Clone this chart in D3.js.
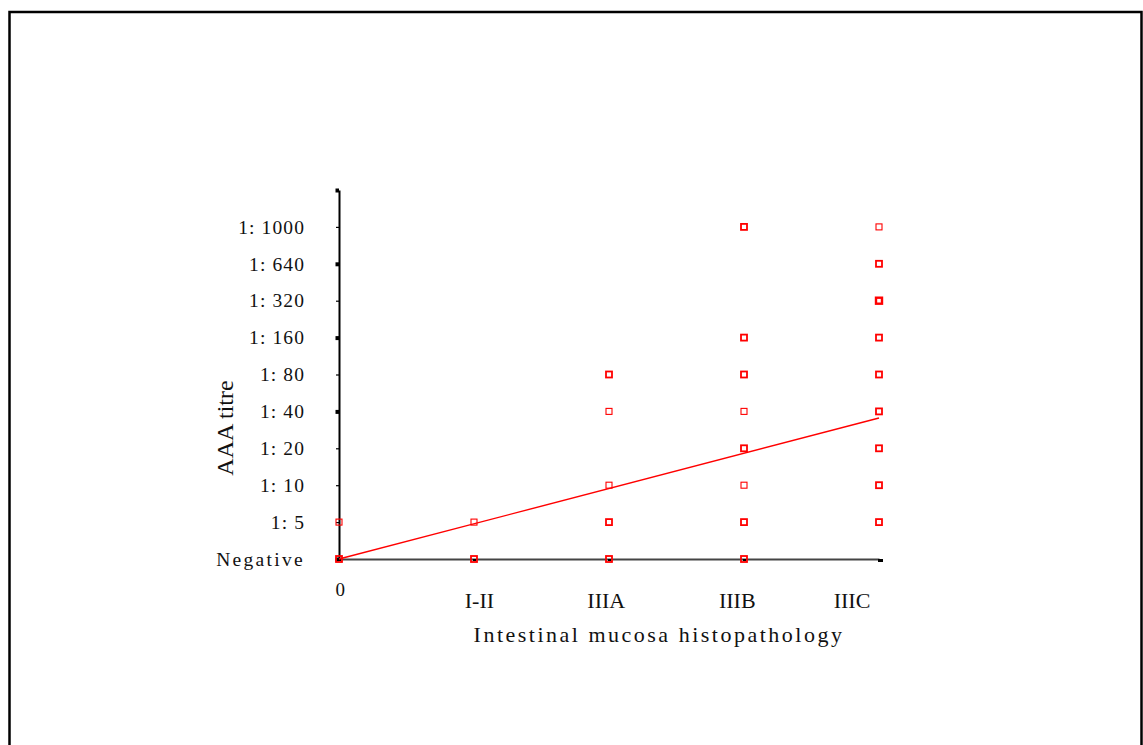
<!DOCTYPE html>
<html lang="en">
<head>
<meta charset="utf-8">
<title>AAA titre vs intestinal mucosa histopathology</title>
<script src="https://cdn.jsdelivr.net/npm/d3@7/dist/d3.min.js"></script>
<style>
  body { margin: 0; background: #fff; }
  svg text { font-family: "Liberation Serif", "Times New Roman", serif; fill: #111; }
</style>
</head>
<body>
<script>
// categories on the x axis (histopathology grade)
var categories = ["0", "I-II", "IIIA", "IIIB", "IIIC"];
// where each category label sits, in category units (the labels are not quite centred on the ticks)
var categoryLabelPos = [0.01, 1.04, 1.98, 2.95, 3.80];
// titre levels on the y axis, bottom to top (level 10 is the unlabelled top of the axis)
var titreLabels = ["Negative", "1: 5", "1: 10", "1: 20", "1: 40", "1: 80", "1: 160", "1: 320", "1: 640", "1: 1000"];
var majorLevels = [0, 4, 6, 8, 10];

// observed points: category index, titre level, how many overlap
var pointCat   = [0, 0, 1, 1, 2, 2, 2, 2, 2, 3, 3, 3, 3, 3, 3, 3, 3, 4, 4, 4, 4, 4, 4, 4, 4, 4];
var pointTitre = [0, 1, 0, 1, 0, 1, 2, 4, 5, 0, 1, 2, 3, 4, 5, 6, 9, 1, 2, 3, 4, 5, 6, 7, 8, 9];
var pointCount = [2, 1, 2, 1, 2, 2, 1, 1, 2, 2, 2, 1, 2, 1, 2, 2, 2, 2, 2, 2, 2, 2, 2, 3, 2, 1];

// linear fit (titre level on category index)
var fitIntercept = 0, fitSlope = 0.955;

var W = 1143, H = 745;
var x0 = 339, x1 = 879, yBase = 559, yTop = 190;
var red = "#ff0000";

var svg = d3.select("body").append("svg")
  .attr("width", W)
  .attr("height", H);

// outer frame (bottom edge runs off the page)
svg.append("rect")
  .attr("x", 9.5).attr("y", 12)
  .attr("width", 1132).attr("height", 800)
  .attr("fill", "none")
  .attr("stroke", "#000")
  .attr("stroke-width", 2.5);

var x = d3.scaleLinear().domain([0, categories.length - 1]).range([x0, x1]);
var y = d3.scaleLinear().domain([0, 10]).range([yBase, yTop]);

// x axis
var xAxis = svg.append("g")
  .attr("transform", "translate(0," + yBase + ")")
  .call(d3.axisBottom(x)
    .tickValues(d3.range(categories.length))
    .tickSize(3)
    .tickSizeOuter(0)
    .tickFormat(""));
xAxis.select(".domain").attr("stroke", "#444").attr("stroke-width", 2);
xAxis.selectAll(".tick line").attr("stroke", "#000").attr("stroke-width", 3).attr("y2", 2);
// little end mark at the right end of the x axis
xAxis.append("line")
  .attr("x1", x(categories.length - 1) - 1).attr("x2", x(categories.length - 1) + 4)
  .attr("y1", 1.5).attr("y2", 1.5)
  .attr("stroke", "#000").attr("stroke-width", 3);

svg.append("g").selectAll("text")
  .data(categories)
  .enter().append("text")
  .attr("x", function(d, i) { return x(categoryLabelPos[i]); })
  .attr("y", function(d, i) { return i === 0 ? 596 : 608; })
  .attr("text-anchor", "middle")
  .attr("font-size", function(d, i) { return i === 0 ? "19px" : "22px"; })
  .text(function(d) { return d; });

// y axis
var yAxis = svg.append("g")
  .attr("transform", "translate(" + x0 + ",0)")
  .call(d3.axisLeft(y)
    .tickValues(d3.range(0, 11))
    .tickSize(3)
    .tickSizeOuter(0)
    .tickPadding(31)
    .tickFormat(function(i) { return titreLabels[i] || ""; }));
yAxis.select(".domain").attr("stroke", "#000").attr("stroke-width", 2);
yAxis.selectAll(".tick line")
  .attr("stroke", "#000")
  .attr("x2", function(d) { return majorLevels.indexOf(d) >= 0 ? -3.5 : -3; })
  .attr("stroke-width", function(d) { return majorLevels.indexOf(d) >= 0 ? 4 : 1.2; });
yAxis.selectAll(".tick text")
  .attr("font-size", "19.5px")
  .attr("letter-spacing", function(d) { return d === 0 ? "2.3px" : "1.1px"; })
  .attr("fill", "#111");

// axis titles
svg.append("text")
  .attr("transform", "translate(233,428) rotate(-90)")
  .attr("text-anchor", "middle")
  .attr("font-size", "24px")
  .text("AAA titre");

svg.append("text")
  .attr("x", 659).attr("y", 642)
  .attr("text-anchor", "middle")
  .attr("font-size", "22px")
  .attr("letter-spacing", "2.5px")
  .text("Intestinal mucosa histopathology");

// regression line
svg.append("line")
  .attr("x1", x(0)).attr("y1", y(fitIntercept))
  .attr("x2", x(categories.length - 1)).attr("y2", y(fitIntercept + fitSlope * (categories.length - 1)))
  .attr("stroke", red)
  .attr("stroke-width", 1.4);

// points, hollow squares; overlapping ones drawn heavier
var s = 6;
svg.append("g").selectAll("rect")
  .data(d3.range(pointCat.length))
  .enter().append("rect")
  .attr("x", function(i) { return x(pointCat[i]) - s / 2; })
  .attr("y", function(i) { return y(pointTitre[i]) - s / 2; })
  .attr("width", s)
  .attr("height", s)
  .attr("fill", "none")
  .attr("stroke", red)
  .attr("stroke-width", function(i) { return pointCount[i] === 1 ? 1.1 : (pointCount[i] === 2 ? 1.8 : 2.4); });
</script>
</body>
</html>
